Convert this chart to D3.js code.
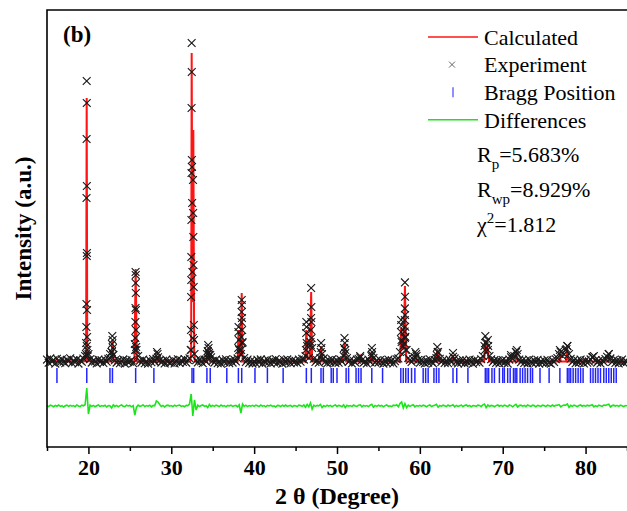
<!DOCTYPE html>
<html>
<head>
<meta charset="utf-8">
<script src="https://cdn.jsdelivr.net/npm/d3@7"></script>
<style>
  body { margin: 0; background: #fff; }
  svg { display: block; }
  text { font-family: "Liberation Serif", "Times New Roman", serif; fill: #000; }
  .axis text { font-size: 22px; font-weight: bold; }
  .axis line { stroke: #000; stroke-width: 1.5; }
  .axis-title { font-size: 23px; font-weight: bold; }
  .legend text { font-size: 22px; }
</style>
</head>
<body>
<svg id="chart"></svg>
<script>
const obsStart = 15;
const obsStep = 0.2;
const obsCounts = [
  1060, 980, 1090, 1010, 1050, 960, 1080, 1030, 990, 1070, 1010, 970, 1055, 1020, 1095, 975, 1040, 995, 1065, 960, 1045, 1005, 1085, 1150, 1400,
  1200, 1070, 985, 1045, 1015, 965, 1060, 1000, 1040, 975, 1055, 1005, 1080, 1100, 1250, 1180, 1045, 985, 1035, 970, 1020, 1065, 960, 1040, 995,
  1010, 1050, 970, 1450, 1300, 1150, 1030, 985, 1060, 970, 1020, 955, 1050, 995, 1075, 1010, 1080, 1120, 1040, 985, 1030, 965, 1060, 1005, 980,
  990, 1055, 965, 1020, 1070, 975, 1040, 1000, 1075, 985, 1050, 1095, 1300, 1600, 1200, 1045, 990, 1065, 1015, 970, 1060, 1005, 1100, 1180, 1120,
  1030, 985, 1060, 970, 1020, 955, 1050, 995, 1070, 1005, 970, 1040, 985, 1060, 1015, 1090, 1300, 1200, 1500, 1100, 1000, 1060, 975, 1030, 960,
  1020, 970, 1055, 990, 1065, 955, 1030, 985, 1060, 1005, 965, 1040, 990, 1075, 975, 1035, 1010, 955, 1050, 985, 1065, 1015, 970, 1045, 990,
  1030, 975, 1060, 1005, 1080, 1060, 1150, 1400, 1100, 1500, 1350, 1080, 1000, 1050, 980, 1100, 1200, 1090, 1010, 965, 1050, 990, 1065, 1000, 975,
  1040, 980, 1065, 1010, 1150, 1300, 1100, 1000, 1050, 965, 1030, 990, 1060, 1080, 1110, 1045, 980, 1020, 965, 1060, 1000, 1180, 1100, 990, 1040,
  985, 1050, 1000, 960, 1035, 975, 1060, 990, 1040, 965, 1020, 1070, 1090, 1250, 1500, 1400, 1600, 1300, 1100, 1050, 1000, 1070, 1120, 1150, 1050,
  980, 1060, 1000, 965, 1045, 985, 1070, 1010, 965, 1050, 1100, 1250, 1080, 1000, 1050, 975, 1035, 970, 1060, 1000, 1130, 1090, 1010, 965, 1040,
  985, 1050, 965, 1035, 980, 1060, 1010, 955, 1050, 995, 1030, 980, 1070, 1150, 1400, 1500, 1300, 1150, 1070, 1000, 1050, 975, 1040, 965, 1015,
  1050, 975, 1035, 960, 1060, 1120, 1080, 1150, 1250, 1200, 1060, 995, 1050, 975, 1035, 960, 1060, 1000, 970, 1045, 985, 1055, 960, 1015, 980,
  1035, 970, 1055, 985, 955, 1045, 1000, 1070, 1100, 1200, 1250, 1150, 1200, 1300, 1400, 1200, 1080, 1000, 1050, 970, 1035, 980, 1060, 1000, 965,
  1045, 980, 1015, 1065, 1120, 1150, 1050, 985, 1035, 965, 1050, 1000, 1075, 1130, 1200, 1090, 1000, 1050, 975, 1040, 965, 1010, 1060, 980, 1035,
  1000
];

// Observed points on the steep peak flanks [2θ, counts]
const peakObs = [
  [19.79, 8025], [19.80, 7475], [19.78, 6575], [19.81, 5400], [19.77, 5100], [19.82, 3725], [19.80, 3650],
  [19.76, 2450], [19.83, 2300], [19.75, 1875], [19.84, 1625], [19.72, 1475], [19.87, 1300], [19.70, 1200], [19.90, 1150],
  [22.88, 1650], [22.92, 1550], [22.84, 1450], [22.96, 1350], [22.80, 1250], [23.00, 1175], [22.62, 1200],
  [25.69, 3250], [25.71, 3175], [25.70, 2975], [25.72, 2725], [25.68, 2350], [25.73, 2300], [25.67, 2000],
  [25.74, 1800], [25.66, 1600], [25.76, 1375], [25.63, 1300],
  [28.28, 1250], [28.34, 1200],
  [32.46, 8975], [32.47, 8250], [32.45, 7350], [32.48, 6050], [32.50, 5875], [32.44, 5725], [32.62, 5550],
  [32.52, 4975], [32.64, 4725], [32.43, 4550], [32.66, 4125], [32.42, 3625], [32.68, 3425], [32.55, 3250],
  [32.41, 3050], [32.70, 2875], [32.40, 2625], [32.72, 1925], [32.38, 1800], [32.75, 1550], [32.35, 1300],
  [34.45, 1425], [34.50, 1350], [34.40, 1275], [34.55, 1225], [34.30, 1200], [34.70, 1175],
  [38.12, 1875], [38.10, 1750], [38.15, 1550], [38.08, 1350],
  [38.50, 2550], [38.52, 2425], [38.49, 2250], [38.53, 2100], [38.47, 2000], [38.55, 1800], [38.45, 1625], [38.57, 1475], [38.43, 1300],
  [46.30, 2000], [46.32, 1875], [46.28, 1725], [46.34, 1475], [46.25, 1300],
  [46.88, 2850], [46.90, 2375], [46.87, 2100], [46.91, 2000], [46.85, 1800], [46.93, 1600], [46.83, 1425],
  [48.08, 1475], [48.12, 1350], [48.03, 1250],
  [50.90, 1600], [50.95, 1475], [50.85, 1350], [51.00, 1225],
  [52.80, 1150],
  [54.20, 1350], [54.24, 1250], [54.15, 1150],
  [58.20, 2990], [58.21, 2630], [58.19, 2340], [58.22, 2175], [58.18, 2050], [58.23, 1880], [58.16, 1760],
  [58.25, 1630], [58.14, 1470], [58.28, 1300],
  [57.74, 2050], [57.76, 1925], [57.72, 1750], [57.79, 1550],
  [59.45, 1250], [59.55, 1200],
  [62.10, 1375], [62.15, 1250], [62.04, 1175],
  [64.00, 1225],
  [67.90, 1650], [67.94, 1475], [68.20, 1550], [68.25, 1400], [67.86, 1300],
  [71.00, 1175], [71.60, 1250], [71.70, 1300],
  [76.90, 1300], [77.70, 1325], [77.80, 1400],
  [80.90, 1125], [82.80, 1200]
];

// Calculated profile [2θ, counts]
const calcPoints = [
  [15.00, 1020],
  [19.65, 1020], [19.72, 1200], [19.79, 7600], [19.86, 1200], [19.93, 1020],
  [22.75, 1010], [22.90, 1550], [23.05, 1010],
  [25.55, 1010], [25.70, 3325], [25.85, 1010],
  [28.20, 1010], [28.30, 1150], [28.40, 1010],
  [32.30, 1020], [32.40, 1300], [32.46, 8725], [32.56, 2500], [32.66, 6800], [32.76, 1300], [32.85, 1020],
  [34.30, 1010], [34.47, 1350], [34.65, 1010],
  [38.00, 1010], [38.12, 1800], [38.25, 1150], [38.38, 1200], [38.50, 2725], [38.62, 1010],
  [46.15, 1010], [46.30, 1800], [46.45, 1100], [46.75, 1100], [46.88, 2750], [47.00, 1010],
  [47.95, 1010], [48.08, 1400], [48.20, 1010],
  [50.70, 1010], [50.90, 1475], [51.10, 1010],
  [52.65, 1010], [52.80, 1120], [52.95, 1010],
  [54.05, 1010], [54.20, 1250], [54.35, 1010],
  [57.60, 1010], [57.75, 1875], [57.90, 1300], [58.05, 1400], [58.20, 2900], [58.35, 1010],
  [59.40, 1010], [59.50, 1180], [59.60, 1010],
  [61.95, 1010], [62.10, 1330], [62.25, 1010],
  [63.90, 1010], [64.00, 1180], [64.10, 1010],
  [67.75, 1010], [67.90, 1550], [68.05, 1250], [68.20, 1350], [68.35, 1010],
  [71.50, 1010], [71.65, 1250], [71.80, 1010],
  [76.80, 1010], [76.90, 1200], [77.00, 1010], [77.65, 1010], [77.80, 1320], [77.95, 1010],
  [82.70, 1010], [82.80, 1150], [82.90, 1010],
  [85.00, 1000]
];

// Obs - calc on the same grid as obsCounts
const diffCounts = [
  10, -15, 20, 5, -20, 15, -5, 25, -10, 10, -25, 5, 20, -10, 15, -5, 10, -20, 25, 0, -15, 20, 5, 30, 450,
  -200, 20, -10, 15, -20, 5, 25, -15, 10, -5, 20, -25, 10, 5, -50, 30, -10, 15, -20, 10, 25, -5, -15, 20, 0,
  15, -20, 10, -225, -30, 20, -10, 5, 25, -15, 10, -5, 20, -20, 15, 5, 125, 100, 40, -10, 15, -25, 10, 20, -5,
  10, -15, 20, -5, 15, 25, -10, 5, -20, 15, 10, 50, 300, -250, 150, -100, 20, -15, 10, 25, -10, 5, -40, 40, -10,
  15, -10, 20, 5, -15, 25, -5, 10, -20, 15, 0, 20, -10, 5, 15, -20, 30, -175, 50, -10, 20, -15, 10, -5, 15,
  -10, 20, 5, -15, 25, -5, 10, -20, 15, 0, 20, -10, 5, -25, 15, 10, -15, 20, -5, 25, -10, 5, 15, -20, 10,
  5, -15, 20, 10, -10, 25, -30, 40, -20, 75, -75, 20, -10, 15, 5, 40, -40, 10, -15, 20, -5, 15, -20, 10, 25,
  -10, 15, 5, -20, 30, -40, 20, -5, 10, -15, 25, 0, -10, 20, 30, -20, 15, -5, 10, -15, 20, 40, -30, 15, -10,
  20, -5, 15, -20, 10, 25, -10, 5, -15, 20, 10, 30, -20, 60, 100, -50, 60, -40, 20, -10, 15, 30, -20, 10, -5,
  15, -10, 20, 5, -20, 10, 25, -15, 5, 20, 40, -30, 15, -10, 20, 5, -15, 25, -5, 10, 30, -20, 15, -10, 5,
  20, -15, 10, 25, -5, 15, -20, 10, 5, -10, 20, 15, -15, 30, 50, -40, 25, -10, 15, 5, -20, 10, 25, -5, 15,
  -10, 20, 5, -15, 25, 10, -20, 15, 40, -25, 10, 20, -5, 15, -15, 25, 5, -10, 20, 10, -20, 15, 5, -10, 20,
  10, -15, 20, 5, -10, 25, -5, 15, 20, 35, -20, 10, 25, 20, 50, -35, 15, -10, 20, 5, -15, 10, 25, -5, 15,
  -10, 20, 5, 15, 30, -20, 10, -15, 20, 5, -10, 25, 15, 30, 45, -25, 10, 20, -5, 15, -10, 20, 5, -15, 10,
  5
];

// Bragg reflection positions (2θ)
const braggPositions = [
  16.2, 19.8, 22.6, 22.9, 25.7, 27.9, 32.5, 32.7, 34.3, 34.7, 36.7, 38.1, 38.5, 40.1, 41.6, 43.5,
  46.3, 46.9, 48.07, 48.35, 49.3, 49.55, 50.0, 51.1, 51.4, 52.3, 52.6, 52.9, 54.2, 55.5,
  57.7, 58.0, 58.3, 58.6, 59.0, 59.4, 60.4, 60.7, 61.0, 61.7, 62.0, 62.3, 64.0, 64.45, 65.8,
  67.9, 68.1, 68.3, 68.7, 69.0, 69.6, 70.0, 70.2, 70.6, 70.9, 71.3, 71.5, 71.7, 72.1, 72.4, 72.7, 73.0, 73.35, 73.6,
  74.5, 75.6, 76.9, 77.8, 78.0, 78.2, 78.5, 78.8, 79.1, 79.4, 79.7, 80.6, 80.9, 81.2, 81.5, 81.8,
  82.2, 82.5, 82.8, 83.1, 83.4, 83.7
];

const xTicks = [20, 30, 40, 50, 60, 70, 80];
const xMinorTicks = [15, 25, 35, 45, 55, 65, 75, 85];
const legendLabels = ['Calculated', 'Experiment', 'Bragg Position', 'Differences'];
const fitStats = [
  {symbol: 'R', sub: 'p', value: '=5.683%'},
  {symbol: 'R', sub: 'wp', value: '=8.929%'},
  {symbol: 'χ', sup: '2', value: '=1.812'}
];

class RietveldPlot {

  constructor(_config) {
    this.config = {
      parentElement: _config.parentElement,
      containerWidth: _config.containerWidth || 627,
      containerHeight: _config.containerHeight || 511,
      margin: _config.margin || {top: 10, right: 0, bottom: 64, left: 47},
      diffOffset: -100,
      braggTop: 850,
      braggBottom: 475
    };
    this.initVis();
  }

  initVis() {
    let vis = this;

    vis.width = vis.config.containerWidth - vis.config.margin.left - vis.config.margin.right;
    vis.height = vis.config.containerHeight - vis.config.margin.top - vis.config.margin.bottom;

    vis.xScale = d3.scaleLinear()
        .domain([15, 85])
        .range([0, vis.width]);

    // no intensity ticks on this plot, domain just places the curves
    vis.yScale = d3.scaleLinear()
        .domain([-1125, 9800])
        .range([vis.height, 0]);

    vis.xAxis = d3.axisBottom(vis.xScale)
        .tickValues(xTicks)
        .tickSize(7)
        .tickPadding(5)
        .tickFormat(d3.format('d'));

    vis.xAxisMinor = d3.axisBottom(vis.xScale)
        .tickValues(xMinorTicks)
        .tickSize(4)
        .tickFormat('');

    vis.svg = d3.select(vis.config.parentElement)
        .attr('width', vis.config.containerWidth)
        .attr('height', vis.config.containerHeight);

    vis.chart = vis.svg.append('g')
        .attr('transform', `translate(${vis.config.margin.left},${vis.config.margin.top})`);

    vis.xAxisG = vis.chart.append('g')
        .attr('class', 'axis x-axis')
        .attr('transform', `translate(0,${vis.height})`);

    vis.xAxisMinorG = vis.chart.append('g')
        .attr('class', 'axis x-axis-minor')
        .attr('transform', `translate(0,${vis.height})`);

    // axis titles
    vis.svg.append('text')
        .attr('class', 'axis-title')
        .attr('x', vis.config.margin.left + vis.width / 2)
        .attr('y', 504)
        .attr('text-anchor', 'middle')
        .style('font-size', '24px')
        .text('2 θ (Degree)');

    vis.svg.append('text')
        .attr('class', 'axis-title')
        .attr('transform', `translate(31,${vis.config.margin.top + vis.height / 2}) rotate(-90)`)
        .attr('text-anchor', 'middle')
        .text('Intensity (a.u.)');

    vis.svg.append('text')
        .attr('class', 'axis-title')
        .attr('x', 63)
        .attr('y', 42)
        .text('(b)');

    vis.updateVis();
  }

  updateVis() {
    let vis = this;

    vis.obsData = obsCounts.map((c, i) => ({x: obsStart + i * obsStep, y: c}))
        .concat(peakObs.map(d => ({x: d[0], y: d[1]})));
    vis.calcData = calcPoints.map(d => ({x: d[0], y: d[1]}));
    vis.diffData = diffCounts.map((c, i) => ({x: obsStart + i * obsStep, y: c + vis.config.diffOffset}));

    vis.renderVis();
  }

  renderVis() {
    let vis = this;

    const line = d3.line()
        .x(d => vis.xScale(d.x))
        .y(d => vis.yScale(d.y));

    // calculated curve sits under the experiment crosses
    vis.chart.append('path')
        .datum(vis.calcData)
        .attr('fill', 'none')
        .attr('stroke', '#ff1414')
        .attr('stroke-width', 2)
        .attr('d', line);

    vis.chart.selectAll('.obs')
        .data(vis.obsData)
      .join('path')
        .attr('class', 'obs')
        .attr('transform', d => `translate(${vis.xScale(d.x)},${vis.yScale(d.y)})`)
        .attr('d', 'M-3.9,-3.9L3.9,3.9M-3.9,3.9L3.9,-3.9')
        .attr('fill', 'none')
        .attr('stroke', '#1a1a1a')
        .attr('stroke-width', 1.15);

    vis.chart.selectAll('.bragg')
        .data(braggPositions)
      .join('line')
        .attr('class', 'bragg')
        .attr('x1', d => vis.xScale(d))
        .attr('x2', d => vis.xScale(d))
        .attr('y1', vis.yScale(vis.config.braggTop))
        .attr('y2', vis.yScale(vis.config.braggBottom))
        .attr('stroke', '#2424ff')
        .attr('stroke-width', 1.5);

    vis.chart.append('path')
        .datum(vis.diffData)
        .attr('fill', 'none')
        .attr('stroke', '#19e619')
        .attr('stroke-width', 1.6)
        .attr('d', line);

    vis.xAxisG
        .call(vis.xAxis)
        .call(g => g.select('.domain').remove());

    vis.xAxisMinorG
        .call(vis.xAxisMinor)
        .call(g => g.select('.domain').remove());

    // frame: left, top and bottom (right edge is cut off in the figure)
    vis.chart.append('path')
        .attr('d', `M${vis.width},0H0V${vis.height}H${vis.width}`)
        .attr('fill', 'none')
        .attr('stroke', '#000')
        .attr('stroke-width', 1.6);

    // legend
    const legend = vis.svg.append('g').attr('class', 'legend');
    const rowY = i => 37 + i * 27.6;

    legend.append('line')
        .attr('x1', 428).attr('x2', 478).attr('y1', rowY(0)).attr('y2', rowY(0))
        .attr('stroke', '#ff1414').attr('stroke-width', 1.5);
    legend.append('path')
        .attr('transform', `translate(452,${rowY(1)})`)
        .attr('d', 'M-3,-3L3,3M-3,3L3,-3')
        .attr('stroke', '#555').attr('stroke-width', 0.9);
    legend.append('line')
        .attr('x1', 453).attr('x2', 453).attr('y1', rowY(2) - 5).attr('y2', rowY(2) + 5)
        .attr('stroke', '#6a6aff').attr('stroke-width', 1.5);
    legend.append('line')
        .attr('x1', 428).attr('x2', 478).attr('y1', rowY(3)).attr('y2', rowY(3))
        .attr('stroke', '#19e619').attr('stroke-width', 1.5);

    legend.selectAll('.legend-label')
        .data(legendLabels)
      .join('text')
        .attr('class', 'legend-label')
        .attr('x', 484)
        .attr('y', (d, i) => rowY(i))
        .attr('dy', '0.35em')
        .text(d => d);

    fitStats.forEach((s, i) => {
      const t = legend.append('text')
          .attr('x', 477)
          .attr('y', 162 + i * 35);
      t.append('tspan').text(s.symbol);
      if (s.sub) {
        t.append('tspan').attr('font-size', 15).attr('dy', 7).text(s.sub);
        t.append('tspan').attr('dy', -7).text(s.value);
      } else {
        t.append('tspan').attr('font-size', 15).attr('dy', -9).text(s.sup);
        t.append('tspan').attr('dy', 9).text(s.value);
      }
    });
  }
}

new RietveldPlot({parentElement: '#chart'});
</script>
</body>
</html>
